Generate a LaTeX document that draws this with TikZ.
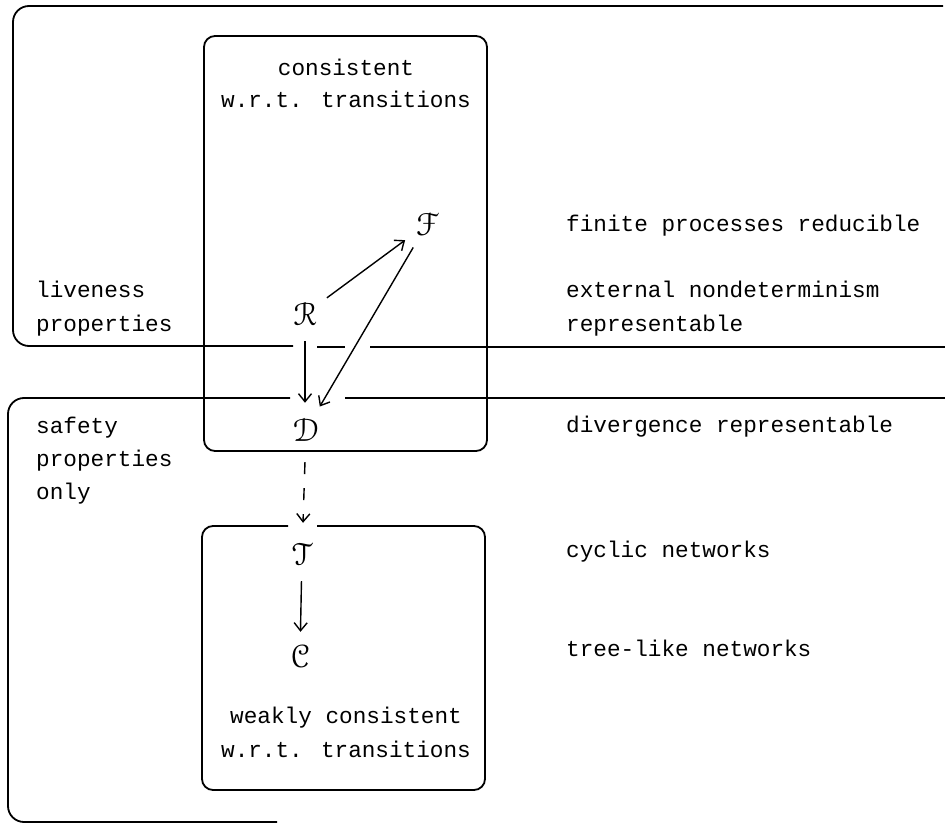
\documentclass[tikz,border=0pt]{standalone}
\usepackage{fontspec}
\setmainfont{Liberation Mono}
\usepackage[mathscr]{euscript}
\usetikzlibrary{arrows.meta}

% script letter for a semantic model
\newcommand{\model}[1]{\scalebox{1.3}{$\mathscr{#1}$}}

\begin{document}
\begin{tikzpicture}[x=1pt,y=-1pt,
  region/.style={line width=1.8pt, rounded corners=16pt},
  modelbox/.style={line width=1.8pt, rounded corners=11pt},
  lbl/.style={font=\fontsize{22.7}{34}\selectfont, inner sep=0pt, anchor=mid west},
  ctr/.style={font=\fontsize{22.7}{34}\selectfont, inner sep=0pt, anchor=mid},
  sym/.style={font=\fontsize{24.88}{30}\selectfont, circle, inner sep=0pt, minimum size=54pt},
  arr/.style={line width=1.4pt, -{Straight Barb[length=8pt,width=13pt]}},
  dasharr/.style={arr, dash pattern=on 12pt off 14pt},
]
\useasboundingbox (0,0) rectangle (950,826);

% liveness region (open to the right), broken where the arrows pass
\draw[region] (943,6) -- (13,6) -- (13,346) -- (293,346);
\draw[region] (317,347) -- (345,347);
\draw[region] (370,347) -- (945,347);

% safety region
\draw[region] (290,398) -- (8,398) -- (8,822) -- (277,822);
\draw[region] (345,398) -- (945,398);

% consistent models
\draw[modelbox] (204,36) rectangle (487,451);
% weakly consistent models, opened for the incoming arrow
\draw[modelbox] (317,526) -- (485,526) -- (485,790) -- (202,790) -- (202,526) -- (288,526);

% box captions
\node[ctr] (c1) at (346,73) {consistent};
\node[ctr] (c2) at (346,105) {w.r.t. transitions};
\node[ctr] (w1) at (346,721) {weakly consistent};
\node[ctr] (w2) at (346,755) {w.r.t. transitions};

% region captions
\node[lbl] (lv1) at (36,295) {liveness};
\node[lbl] (lv2) at (36,329) {properties};
\node[lbl] (sf1) at (36,431) {safety};
\node[lbl] (sf2) at (36,464) {properties};
\node[lbl] (sf3) at (36,497) {only};

% properties of the models
\node[lbl] (p1) at (566,229) {finite processes reducible};
\node[lbl] (p2) at (566,295) {external nondeterminism};
\node[lbl] (p3) at (566,329) {representable};
\node[lbl] (p4) at (566,430) {divergence representable};
\node[lbl] (p5) at (566,555) {cyclic networks};
\node[lbl] (p6) at (566,654) {tree-like networks};

% models
\node[sym] (F) at (427,224) {\model{F}};
\node[sym] (R) at (305,314) {\model{R}};
\node[sym] (D) at (306,430) {\model{D}};
\node[sym] (T) at (302,554) {\model{T}};
\node[sym] (C) at (300,656) {\model{C}};

% relations
\draw[arr] (R) -- (F);
\draw[arr] (F) -- (D);
\draw[arr] (R) -- (R |- D.north);
\draw[dasharr, shorten <=5pt, shorten >=4pt] (D) -- (T);
\draw[arr, shorten >=-3pt] (T) -- (C);
\end{tikzpicture}
\end{document}
